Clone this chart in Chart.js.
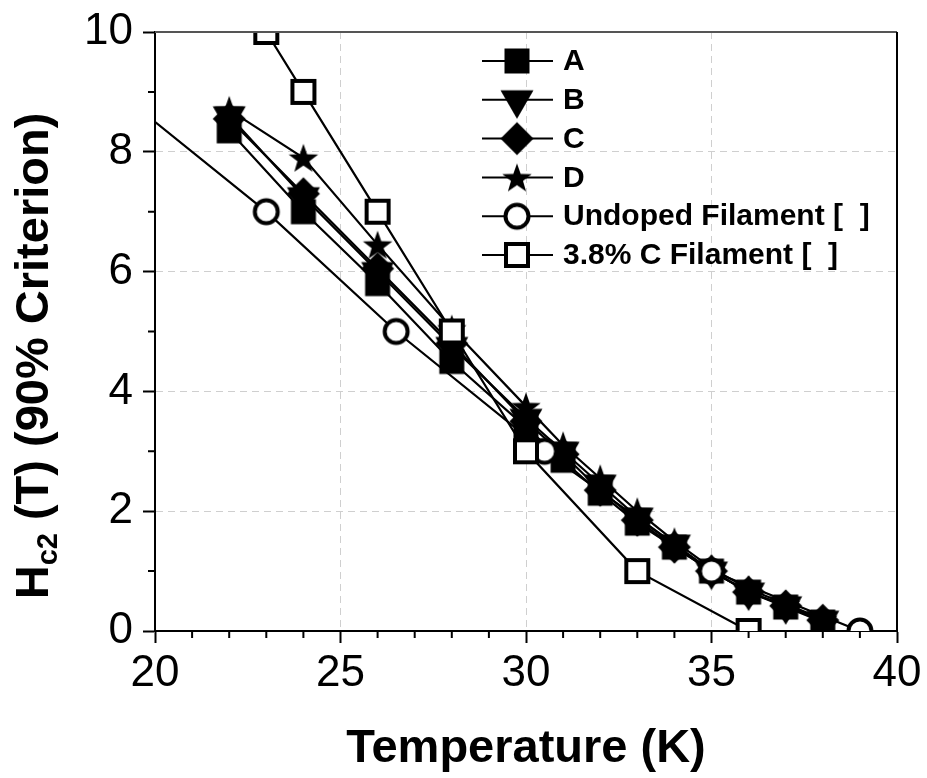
<!DOCTYPE html>
<html>
<head>
<meta charset="utf-8">
<title>Hc2 (90% criterion) vs temperature</title>
<script src="https://cdn.jsdelivr.net/npm/chart.js@4.4.1/dist/chart.umd.min.js"></script>
<style>
  html, body { margin: 0; padding: 0; background: #fff; }
  #chart { display: block; }
</style>
</head>
<body>
<canvas id="chart" width="927" height="778"></canvas>
<script>
// temperatures (K) measured for samples A-D
const tempsABCD = [22, 24, 26, 28, 30, 31, 32, 33, 34, 35, 36, 37, 38];
const hc2A = [8.35, 7.0, 5.8, 4.5, 3.4, 2.85, 2.3, 1.8, 1.4, 1.0, 0.65, 0.4, 0.15];
const hc2B = [8.6, 7.25, 6.0, 4.75, 3.55, 3.0, 2.45, 1.9, 1.45, 1.0, 0.65, 0.42, 0.18];
const hc2C = [8.55, 7.3, 6.05, 4.8, 3.5, 2.95, 2.35, 1.85, 1.4, 1.0, 0.65, 0.42, 0.18];
const hc2D = [8.7, 7.9, 6.45, 5.05, 3.75, 3.1, 2.55, 2.0, 1.5, 1.05, 0.7, 0.45, 0.2];
// filament references (first undoped point sits left of the axis, only its line shows)
const tempsUndoped = [18, 23, 26.5, 30.5, 35, 39];
const hc2Undoped = [9.5, 7.0, 5.0, 3.0, 1.0, 0.0];
const tempsCDoped = [23, 24, 26, 28, 30, 33, 36];
const hc2CDoped = [10, 9, 7, 5, 3, 1, 0];

const seriesLabels = ['A', 'B', 'C', 'D', 'Undoped Filament [  ]', '3.8% C Filament [  ]'];
const xRange = [20, 40];
const yRange = [0, 10];

const FONT = '"Liberation Sans", Arial, Helvetica, sans-serif';

// marker glyphs drawn once on small canvases
function marker(kind){
  const c = document.createElement('canvas');
  c.width = 40; c.height = 40;
  const g = c.getContext('2d');
  const m = 20;
  g.fillStyle = '#000'; g.strokeStyle = '#000';
  g.beginPath();
  if(kind === 'square'){
    g.rect(m - 12.5, m - 12.5, 25, 25); g.fill();
  } else if(kind === 'triangle'){
    const h = 28.6;
    g.moveTo(m - 16.5, m - h / 3); g.lineTo(m + 16.5, m - h / 3); g.lineTo(m, m + 2 * h / 3);
    g.closePath(); g.fill();
  } else if(kind === 'diamond'){
    g.moveTo(m, m - 16.5); g.lineTo(m + 16.5, m); g.lineTo(m, m + 16.5); g.lineTo(m - 16.5, m);
    g.closePath(); g.fill();
  } else if(kind === 'star'){
    for(let i = 0; i < 10; i++){
      const r = i % 2 ? 6.3 : 15.5;
      const a = -Math.PI / 2 + i * Math.PI / 5;
      const px = m + r * Math.cos(a), py = m + 1.5 + r * Math.sin(a);
      if(i === 0) g.moveTo(px, py); else g.lineTo(px, py);
    }
    g.closePath(); g.fill();
  } else if(kind === 'circle'){
    g.arc(m, m, 11.5, 0, Math.PI * 2);
    g.fillStyle = '#fff'; g.fill();
    g.lineWidth = 4; g.stroke();
  } else if(kind === 'openSquare'){
    g.rect(m - 11, m - 11, 22, 22);
    g.fillStyle = '#fff'; g.fill();
    g.lineWidth = 4; g.stroke();
  }
  return c;
}

const series = [
  {label: seriesLabels[0], x: tempsABCD, y: hc2A, glyph: marker('square'), order: 6},
  {label: seriesLabels[1], x: tempsABCD, y: hc2B, glyph: marker('triangle'), order: 5},
  {label: seriesLabels[2], x: tempsABCD, y: hc2C, glyph: marker('diamond'), order: 4},
  {label: seriesLabels[3], x: tempsABCD, y: hc2D, glyph: marker('star'), order: 3},
  {label: seriesLabels[4], x: tempsUndoped, y: hc2Undoped, glyph: marker('circle'), order: 2},
  {label: seriesLabels[5], x: tempsCDoped, y: hc2CDoped, glyph: marker('openSquare'), order: 1}
];

function toPoints(s){ return s.x.map((t, i) => ({x: t, y: s.y[i]})); }

const datasets = [];
// connecting lines first, all of them under the markers
for(const s of series){
  datasets.push({label: s.label + ' line', data: toPoints(s), showLine: true, pointRadius: 0,
    borderColor: '#000', borderWidth: 2.2, order: 10, clip: 0});
}
for(const s of series){
  datasets.push({label: s.label, data: toPoints(s), showLine: false, pointRadius: 12,
    pointStyle: s.glyph, order: s.order, clip: 0});
}

const decor = {
  id: 'decor',
  afterDraw(chart){
    const {ctx, chartArea: a, scales: {x, y}} = chart;
    ctx.save();
    // top and right frame
    ctx.lineWidth = 2;
    ctx.strokeStyle = '#555';
    ctx.beginPath(); ctx.moveTo(a.left, a.top); ctx.lineTo(a.right, a.top); ctx.stroke();
    ctx.strokeStyle = '#000';
    ctx.beginPath(); ctx.moveTo(a.right, a.top); ctx.lineTo(a.right, a.bottom); ctx.stroke();

    // minor ticks
    ctx.beginPath();
    for(let t = xRange[0] + 1; t < xRange[1]; t++){
      if(t % 5 === 0) continue;
      const px = x.getPixelForValue(t);
      ctx.moveTo(px, a.bottom); ctx.lineTo(px, a.bottom + 7);
    }
    for(let v = yRange[0] + 1; v < yRange[1]; v += 2){
      const py = y.getPixelForValue(v);
      ctx.moveTo(a.left, py); ctx.lineTo(a.left - 7, py);
    }
    ctx.stroke();

    // legend with line through marker
    ctx.font = 'bold 30px ' + FONT;
    ctx.textBaseline = 'middle';
    ctx.textAlign = 'left';
    ctx.fillStyle = '#000';
    series.forEach((s, i) => {
      const ly = 61 + i * 38.8;
      ctx.beginPath(); ctx.moveTo(482, ly); ctx.lineTo(553, ly); ctx.stroke();
      ctx.drawImage(s.glyph, 517 - s.glyph.width / 2, ly - s.glyph.height / 2);
      ctx.fillText(s.label, 563, ly + 1);
    });

    // x title
    ctx.font = 'bold 47px ' + FONT;
    ctx.textAlign = 'center';
    ctx.textBaseline = 'alphabetic';
    ctx.fillText('Temperature (K)', (a.left + a.right) / 2, 762);

    // y title with subscript
    ctx.translate(48, 356);
    ctx.rotate(-Math.PI / 2);
    ctx.textAlign = 'left';
    const big = 'bold 47px ' + FONT, small = 'bold 29px ' + FONT;
    ctx.font = big; const wH = ctx.measureText('H').width;
    const rest = ' (T) (90% Criterion)'; const wR = ctx.measureText(rest).width;
    ctx.font = small; const wS = ctx.measureText('c2').width;
    let cx = -(wH + wS + wR) / 2;
    ctx.font = big; ctx.fillText('H', cx, 0); cx += wH;
    ctx.font = small; ctx.fillText('c2', cx, 9); cx += wS;
    ctx.font = big; ctx.fillText(rest, cx, 0);
    ctx.restore();
  }
};

const edgeHidden = (edges) => (c) => (c.tick && edges.includes(c.tick.value)) ? 'rgba(0,0,0,0)' : '#cfcfcf';

new Chart(document.getElementById('chart'), {
  type: 'scatter',
  data: {datasets},
  options: {
    responsive: false,
    animation: false,
    layout: {padding: {top: 30, right: 30, left: 0, bottom: 0}},
    plugins: {legend: {display: false}, tooltip: {enabled: false}},
    scales: {
      x: {
        type: 'linear', min: xRange[0], max: xRange[1],
        afterFit: (s) => { s.height = 147; },
        ticks: {stepSize: 5, color: '#000', padding: 4, maxRotation: 0, autoSkip: false,
          font: {family: FONT, size: 44}},
        grid: {color: edgeHidden(xRange), lineWidth: 1, tickLength: 12, tickColor: '#000', tickWidth: 2},
        border: {display: true, color: '#000', width: 2, dash: [7, 5]}
      },
      y: {
        type: 'linear', min: yRange[0], max: yRange[1],
        afterFit: (s) => { s.width = 155; },
        ticks: {stepSize: 2, color: '#000', padding: 10,
          font: {family: FONT, size: 44, lineHeight: 1}},
        grid: {color: edgeHidden(yRange), lineWidth: 1, tickLength: 12, tickColor: '#000', tickWidth: 2},
        border: {display: true, color: '#000', width: 2, dash: [7, 5]}
      }
    }
  },
  plugins: [decor]
});
</script>
</body>
</html>
